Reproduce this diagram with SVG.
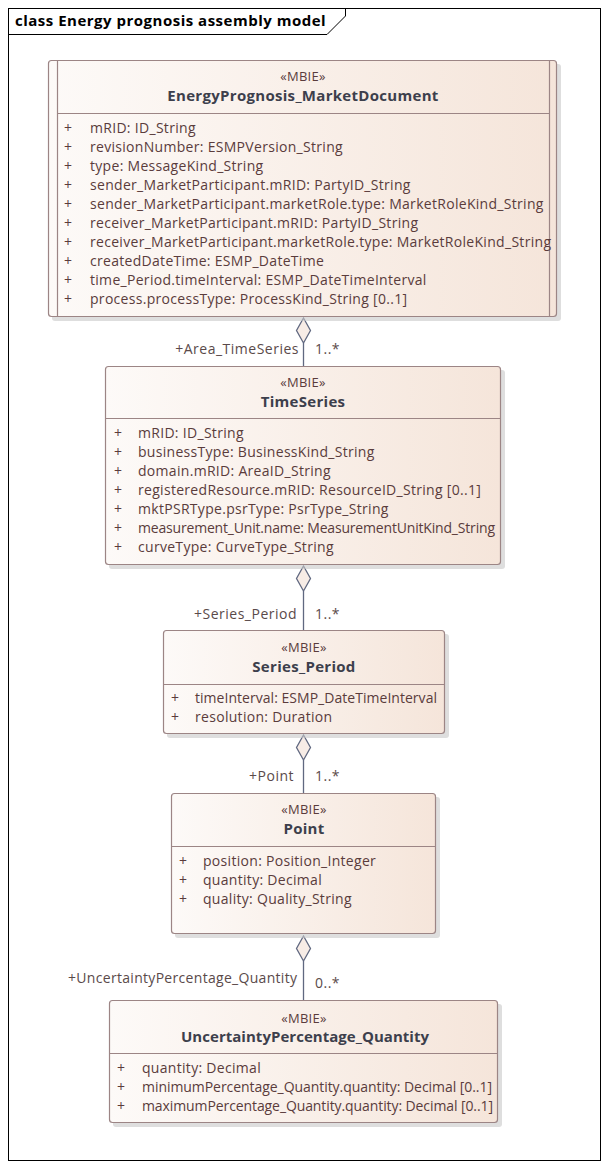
<svg xmlns="http://www.w3.org/2000/svg" width="609" height="1169" viewBox="0 0 609 1169">
<style>
text{font-family:"Open Sans","Noto Sans","DejaVu Sans",sans-serif;}
.box{fill:url(#g);stroke:#9c8585;stroke-width:1.2;}
.sh{fill:#c8c8c8;opacity:0.6;}
.sep{stroke:#9c8585;stroke-width:1.2;}
.st{font-size:13px;fill:#5a3c3c;text-anchor:middle;letter-spacing:0.3px;}
.nm{font-size:15px;font-weight:bold;fill:#3d3f4c;text-anchor:middle;letter-spacing:0.3px;}
.at{font-size:14px;fill:#5a3c3c;letter-spacing:0.3px;}
.lb{font-size:14px;fill:#5a4a4a;letter-spacing:0.5px;}
.fit{letter-spacing:0;}
.ln{stroke:#606880;stroke-width:1.3;fill:none;}
.dm{fill:#f7ece6;stroke:#606880;stroke-width:1.3;}
</style>
<defs>
<linearGradient id="g" x1="0" y1="0" x2="1" y2="0">
<stop offset="0" stop-color="#fdfaf8"/>
<stop offset="1" stop-color="#f5e5da"/>
</linearGradient>
</defs>
<rect width="609" height="1169" fill="#fff"/>
<g id="frame">
<rect x="8.5" y="8.5" width="592" height="1152" fill="none" stroke="#000" stroke-width="1"/>
<path d="M8.5 34.5 H327 L345.5 16 V8.5" fill="none" stroke="#000" stroke-width="1"/>
<text x="15" y="26" style="font-size:15px;font-weight:bold;fill:#000;letter-spacing:0.5px">class Energy prognosis assembly model</text>
</g>
<g id="connectors">
<line class="ln" x1="303.5" y1="343" x2="303.5" y2="366"/>
<path class="dm" d="M303.5 318 L310.5 330.5 L303.5 343 L296.5 330.5 Z"/>
<text class="lb" x="299" y="354" text-anchor="end">+Area_TimeSeries</text>
<text class="lb" x="315" y="354">1..*</text>
<line class="ln" x1="303.5" y1="591" x2="303.5" y2="630"/>
<path class="dm" d="M303.5 566 L310.5 578.5 L303.5 591 L296.5 578.5 Z"/>
<text class="lb" x="297" y="619" text-anchor="end">+Series_Period</text>
<text class="lb" x="315" y="619">1..*</text>
<line class="ln" x1="303.5" y1="760" x2="303.5" y2="793"/>
<path class="dm" d="M303.5 735 L310.5 747.5 L303.5 760 L296.5 747.5 Z"/>
<text class="lb" x="294" y="781" text-anchor="end">+Point</text>
<text class="lb" x="315" y="781">1..*</text>
<line class="ln" x1="303.5" y1="961" x2="303.5" y2="1000"/>
<path class="dm" d="M303.5 936 L310.5 948.5 L303.5 961 L296.5 948.5 Z"/>
<text class="lb fit" x="68" y="983" textLength="229" lengthAdjust="spacing">+UncertaintyPercentage_Quantity</text>
<text class="lb" x="315" y="988">0..*</text>
</g>
<g id="EnergyPrognosis_MarketDocument">
<rect class="sh" x="52" y="64" width="509" height="257" rx="3"/>
<rect class="box" x="48.5" y="60.5" width="508" height="256" rx="3"/>
<line class="sep" x1="57.5" y1="60.5" x2="57.5" y2="316.5"/>
<line class="sep" x1="549.5" y1="60.5" x2="549.5" y2="316.5"/>
<line class="sep" x1="57.5" y1="113.5" x2="549.5" y2="113.5"/>
<text class="st" x="303" y="81">«MBIE»</text>
<text class="nm" x="303" y="101">EnergyPrognosis_MarketDocument</text>
<g class="at">
<text x="64" y="133">+</text><text x="90" y="133">mRID: ID_String</text>
<text x="64" y="152">+</text><text x="90" y="152">revisionNumber: ESMPVersion_String</text>
<text x="64" y="171">+</text><text x="90" y="171">type: MessageKind_String</text>
<text x="64" y="190">+</text><text x="90" y="190">sender_MarketParticipant.mRID: PartyID_String</text>
<text x="64" y="209">+</text><text x="90" y="209">sender_MarketParticipant.marketRole.type: MarketRoleKind_String</text>
<text x="64" y="228">+</text><text x="90" y="228">receiver_MarketParticipant.mRID: PartyID_String</text>
<text x="64" y="247">+</text><text x="90" y="247">receiver_MarketParticipant.marketRole.type: MarketRoleKind_String</text>
<text x="64" y="266">+</text><text x="90" y="266">createdDateTime: ESMP_DateTime</text>
<text x="64" y="285">+</text><text x="90" y="285">time_Period.timeInterval: ESMP_DateTimeInterval</text>
<text x="64" y="304">+</text><text x="90" y="304">process.processType: ProcessKind_String [0..1]</text>
</g>
</g>
<g id="TimeSeries">
<rect class="sh" x="109" y="370" width="396" height="199" rx="3"/>
<rect class="box" x="105.5" y="366.5" width="395" height="198" rx="3"/>
<line class="sep" x1="105.5" y1="418.5" x2="500.5" y2="418.5"/>
<text class="st" x="303" y="387">«MBIE»</text>
<text class="nm" x="303" y="407">TimeSeries</text>
<g class="at">
<text x="114" y="438">+</text><text x="138" y="438">mRID: ID_String</text>
<text x="114" y="457">+</text><text x="138" y="457">businessType: BusinessKind_String</text>
<text x="114" y="476">+</text><text x="138" y="476">domain.mRID: AreaID_String</text>
<text x="114" y="495">+</text><text x="138" y="495">registeredResource.mRID: ResourceID_String [0..1]</text>
<text x="114" y="514">+</text><text x="138" y="514">mktPSRType.psrType: PsrType_String</text>
<text x="114" y="533">+</text><text class="fit" x="138" y="533" textLength="357" lengthAdjust="spacing">measurement_Unit.name: MeasurementUnitKind_String</text>
<text x="114" y="552">+</text><text x="138" y="552">curveType: CurveType_String</text>
</g>
</g>
<g id="Series_Period">
<rect class="sh" x="167" y="634" width="282" height="104" rx="3"/>
<rect class="box" x="163.5" y="630.5" width="281" height="103" rx="3"/>
<line class="sep" x1="163.5" y1="684.5" x2="444.5" y2="684.5"/>
<text class="st" x="304" y="652">«MBIE»</text>
<text class="nm" x="304" y="672">Series_Period</text>
<g class="at">
<text x="171" y="703">+</text><text class="fit" x="195" y="703" textLength="242" lengthAdjust="spacing">timeInterval: ESMP_DateTimeInterval</text>
<text x="171" y="722">+</text><text x="195" y="722">resolution: Duration</text>
</g>
</g>
<g id="Point">
<rect class="sh" x="175" y="797" width="265" height="141" rx="3"/>
<rect class="box" x="171.5" y="793.5" width="264" height="140" rx="3"/>
<line class="sep" x1="171.5" y1="846.5" x2="435.5" y2="846.5"/>
<text class="st" x="304" y="814">«MBIE»</text>
<text class="nm" x="304" y="834">Point</text>
<g class="at">
<text x="179" y="866">+</text><text x="203" y="866">position: Position_Integer</text>
<text x="179" y="885">+</text><text x="203" y="885">quantity: Decimal</text>
<text x="179" y="904">+</text><text x="203" y="904">quality: Quality_String</text>
</g>
</g>
<g id="UncertaintyPercentage_Quantity">
<rect class="sh" x="113" y="1004" width="389" height="123" rx="3"/>
<rect class="box" x="109.5" y="1000.5" width="388" height="122" rx="3"/>
<line class="sep" x1="109.5" y1="1053.5" x2="497.5" y2="1053.5"/>
<text class="st" x="304" y="1023">«MBIE»</text>
<text class="nm fit" x="305" y="1042" textLength="248" lengthAdjust="spacing">UncertaintyPercentage_Quantity</text>
<g class="at">
<text x="117" y="1073">+</text><text x="142" y="1073">quantity: Decimal</text>
<text x="117" y="1092">+</text><text class="fit" x="142" y="1092" textLength="350" lengthAdjust="spacing">minimumPercentage_Quantity.quantity: Decimal [0..1]</text>
<text x="117" y="1111">+</text><text class="fit" x="142" y="1111" textLength="351" lengthAdjust="spacing">maximumPercentage_Quantity.quantity: Decimal [0..1]</text>
</g>
</g>
</svg>
